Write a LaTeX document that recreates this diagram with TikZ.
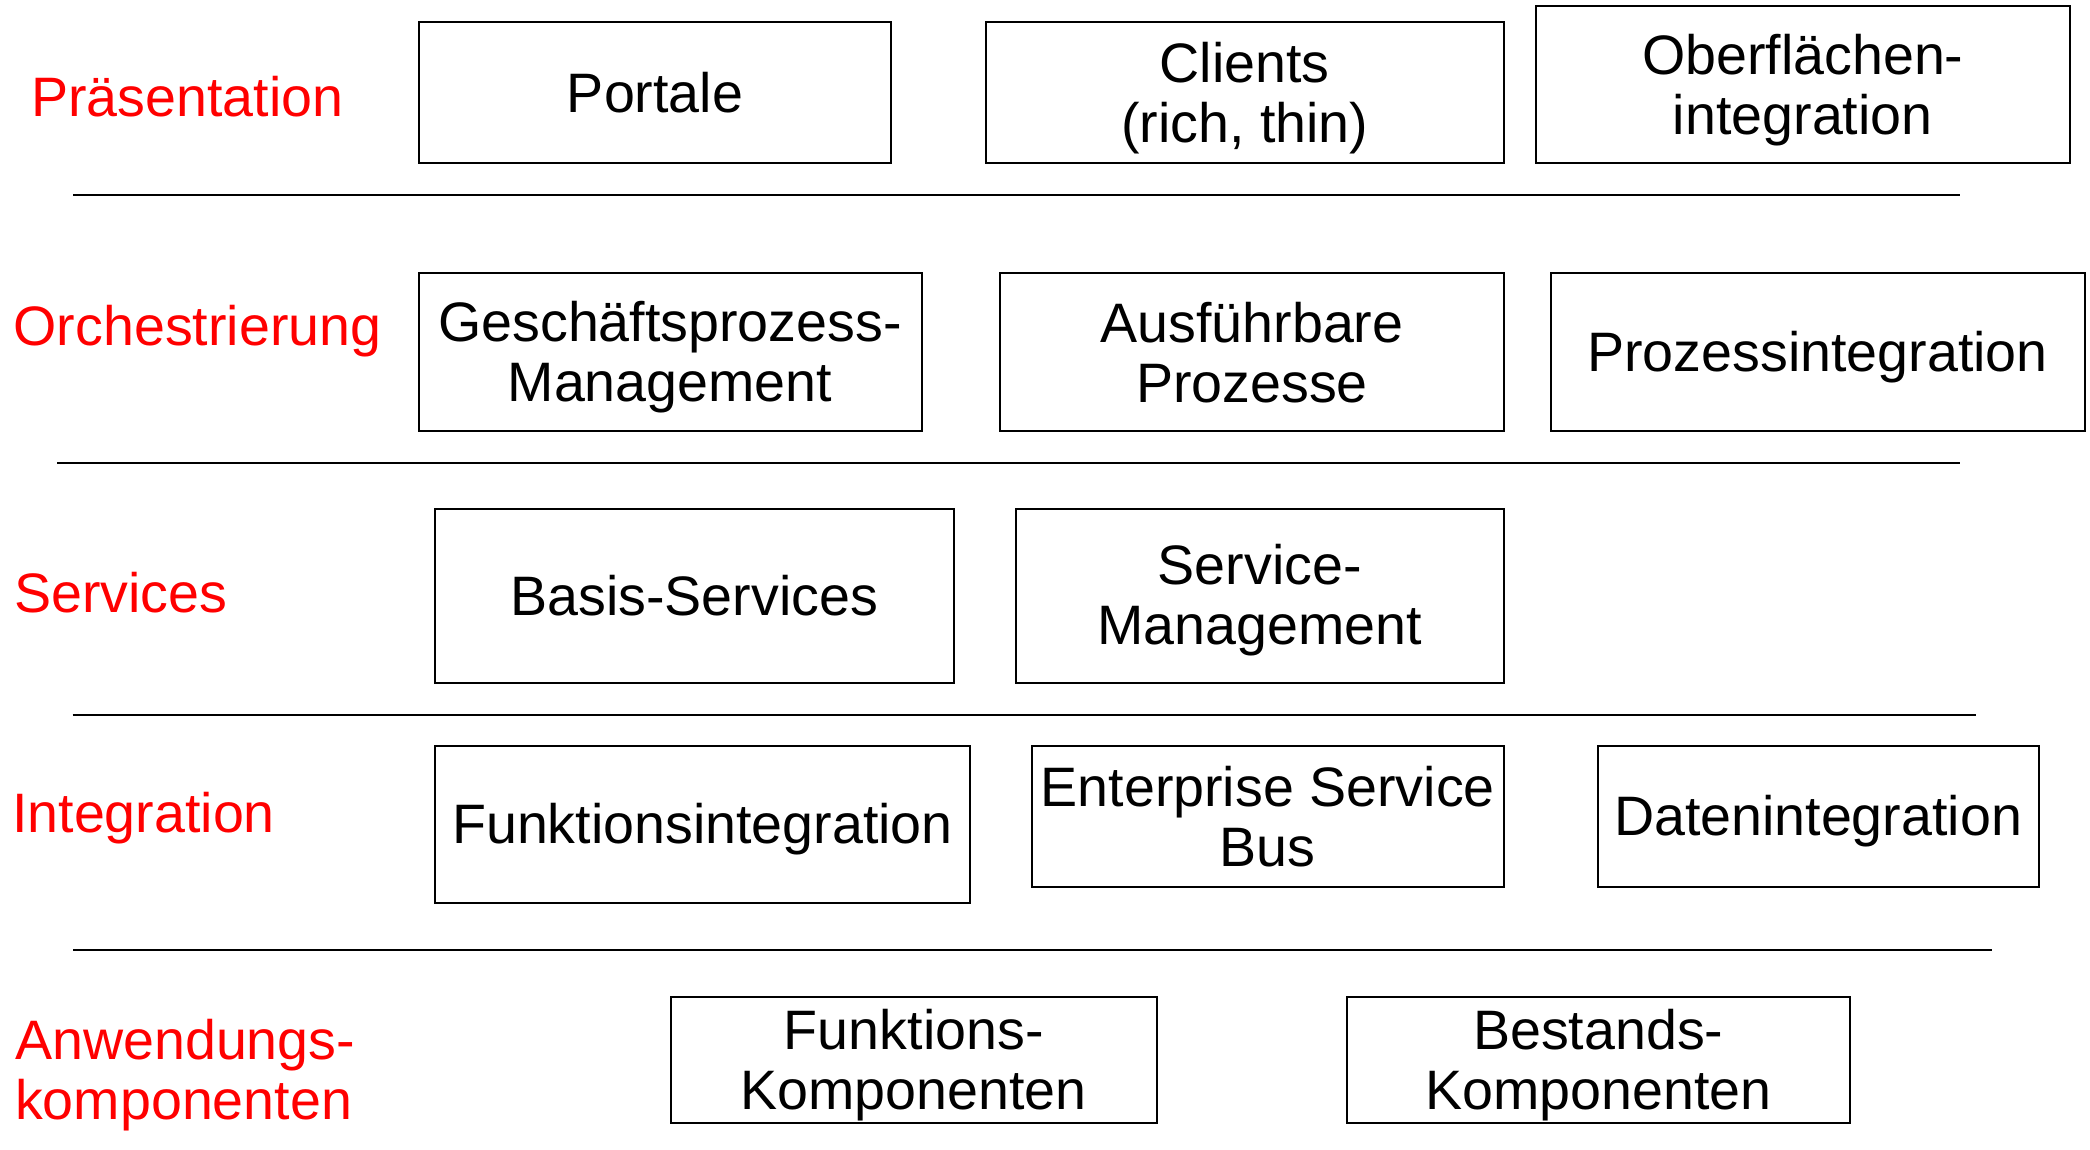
\documentclass[tikz,border=0pt]{standalone}
\usepackage{fontspec}
\setmainfont{Liberation Sans}

% strut centred on the cap height, so that lines sit 60pt apart
\newcommand\capstrut{\rule[-10.2pt]{0pt}{60pt}}

% box with corners (x1,y1) and (x2,y2): name, x1, y1, x2, y2, text
\newcommand\layerbox[6]{%
  \node[blockbox, minimum width={(#4)-(#2)}, minimum height={(#5)-(#3)}]
    (#1) at ({((#2)+(#4))/2},{((#3)+(#5))/2}) {#6};}

\tikzset{
  basefont/.style={font=\fontsize{55.6}{60}\selectfont,
    execute at begin node={\lineskiplimit=-100pt\relax}},
  blockbox/.style={basefont, draw=black, line width=2pt, inner sep=0pt,
    align=center, fill=white},
  layerlabel/.style={basefont, text=red, inner sep=0pt, anchor=west, align=left},
  separator/.style={draw=black, line width=2pt},
}

\begin{document}
\begin{tikzpicture}[x=1pt, y=-1pt]
  \path[fill=white, use as bounding box] (0,0) rectangle (2090,1150);

  % layer names
  \node[layerlabel] (lpres) at (31,96.3) {\capstrut Präsentation};
  \node[layerlabel] (lorch) at (13.5,326) {\capstrut Orchestrierung};
  \node[layerlabel] (lserv) at (14,593) {\capstrut Services};
  \node[layerlabel] (linteg) at (12,813.6) {\capstrut Integration};
  \node[layerlabel] (lanw) at (15,1070.3) {\capstrut Anwendungs-\\\capstrut komponenten};

  % separators between the layers
  \coordinate (s1a) at (73,195.5);   \coordinate (s1b) at (1959.5,195.5);
  \coordinate (s2a) at (57,462.5);   \coordinate (s2b) at (1959.5,462.5);
  \coordinate (s3a) at (72.5,714.5); \coordinate (s3b) at (1976,714.5);
  \coordinate (s4a) at (73,950);     \coordinate (s4b) at (1991.5,950);
  \draw[separator] (s1a) -- (s1b);
  \draw[separator] (s2a) -- (s2b);
  \draw[separator] (s3a) -- (s3b);
  \draw[separator] (s4a) -- (s4b);

  % Präsentation
  \layerbox{portale}{419}{22.5}{891}{163.5}{\capstrut Portale}
  \layerbox{clients}{985.5}{22.5}{1504}{163.5}{\capstrut Clients\\\capstrut (rich, thin)}
  \layerbox{oberfl}{1535.5}{6.5}{2070}{163.5}{\capstrut Oberflächen-\\\capstrut integration}

  % Orchestrierung
  \layerbox{gpm}{418.5}{273.5}{921.5}{431}{\capstrut Geschäftsprozess-\\\capstrut Management}
  \layerbox{ausf}{1000}{273.5}{1504}{431}{\capstrut Ausführbare\\\capstrut Prozesse}
  \layerbox{prozint}{1550.5}{273.5}{2084.5}{431}{\capstrut Prozessintegration}

  % Services
  \layerbox{basis}{435}{509}{953.5}{682.5}{\capstrut Basis-Services}
  \layerbox{svcmgmt}{1015.5}{509}{1504}{682.5}{\capstrut Service-\\\capstrut Management}

  % Integration
  \layerbox{funkint}{435}{746}{970}{902.5}{\capstrut Funktionsintegration}
  \layerbox{esb}{1031.5}{746}{1504}{886.5}{\capstrut Enterprise Service\\\capstrut Bus}
  \layerbox{datint}{1597.5}{746}{2038.5}{886.5}{\capstrut Datenintegration}

  % Anwendungskomponenten
  \layerbox{funkkomp}{670.5}{997}{1157}{1123}{\capstrut Funktions-\\\capstrut Komponenten}
  \layerbox{bestkomp}{1346.5}{997}{1850}{1123}{\capstrut Bestands-\\\capstrut Komponenten}
\end{tikzpicture}
\end{document}
